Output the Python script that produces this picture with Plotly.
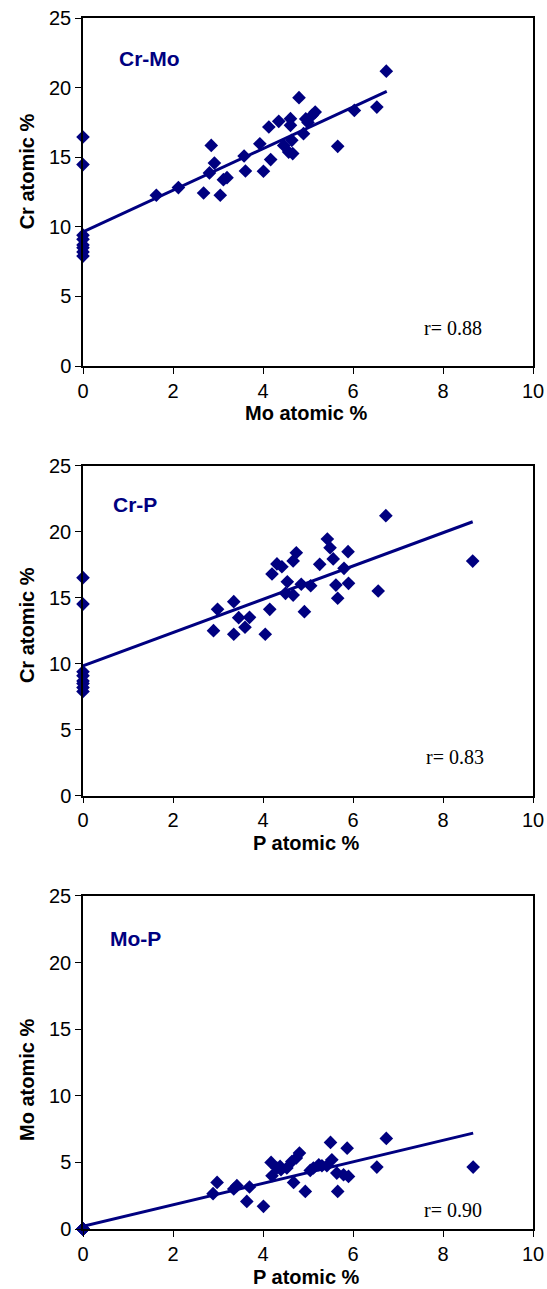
import plotly.graph_objects as go

# ---------- data ----------
mo1 = [0, 0, 0, 0, 0, 0, 0, 0,
       1.63, 2.12, 2.68, 3.05, 3.12, 3.2, 2.85, 2.92, 2.81, 3.58, 3.61, 3.93, 4.01, 4.17, 4.13,
       4.35, 4.61, 4.61, 4.46, 4.57, 4.66, 4.64, 4.8, 4.95, 4.9, 5.0, 5.09, 5.16,
       5.66, 6.03, 6.53, 6.74]
cr1 = [16.45, 14.47, 9.4, 9.1, 8.7, 8.5, 8.2, 7.9,
       12.27, 12.82, 12.43, 12.27, 13.39, 13.53, 15.85, 14.58, 13.87, 15.09, 14.01, 15.97, 13.99, 14.83, 17.17,
       17.58, 17.77, 17.29, 15.85, 15.37, 15.26, 16.21, 19.28, 17.75, 16.69, 17.5, 18.0, 18.24,
       15.78, 18.36, 18.6, 21.18]

p2 = [0, 0, 0, 0, 0, 0, 0, 0,
      2.9, 2.99, 3.35, 3.35, 3.46, 3.6, 3.7, 4.05, 4.15, 4.2, 4.31, 4.42, 4.54, 4.5,
      4.67, 4.67, 4.74, 4.85, 4.92, 5.06, 5.26, 5.43, 5.49, 5.56, 5.62, 5.66,
      5.8, 5.89, 5.9, 6.56, 6.73, 8.66]
cr2 = [16.53, 14.53, 9.4, 9.1, 8.7, 8.5, 8.2, 7.9,
       12.51, 14.13, 14.71, 12.24, 13.5, 12.77, 13.52, 12.24, 14.13, 16.81, 17.57, 17.36, 16.22, 15.34,
       17.8, 15.21, 18.42, 16.03, 13.95, 15.92, 17.54, 19.46, 18.8, 17.95, 15.97, 14.97,
       17.24, 18.5, 16.1, 15.52, 21.23, 17.79]

p3 = [0, 0, 0, 0, 0, 0, 0, 0,
      2.89, 2.98, 3.35, 3.42, 3.64, 3.7, 4.01, 4.18, 4.2, 4.31, 4.4, 4.38,
      4.53, 4.64, 4.74, 4.81, 4.68, 4.94, 5.05, 5.12, 5.24, 5.31, 5.42, 5.5,
      5.53, 5.64, 5.66, 5.79, 5.87, 5.9, 6.53, 6.74, 8.67]
mo3 = [0, 0, 0, 0, 0, 0, 0, 0,
       2.65, 3.5, 3.0, 3.25, 2.07, 3.15, 1.7, 5.0, 4.0, 4.58, 4.45, 4.7,
       4.58, 5.07, 5.33, 5.7, 3.5, 2.82, 4.4, 4.58, 4.82, 4.75, 4.75, 6.5,
       5.2, 4.2, 2.82, 4.07, 6.07, 3.95, 4.65, 6.8, 4.65]

fit1_x = [0, 6.75]
fit1_y = [9.63, 19.73]
fit2_x = [0, 8.66]
fit2_y = [9.85, 20.77]
fit3_x = [0, 8.67]
fit3_y = [0.2, 7.2]

panel_labels = ["Cr-Mo", "Cr-P", "Mo-P"]
r_labels = ["r= 0.88", "r= 0.83", "r= 0.90"]
x_titles = ["Mo atomic %", "P atomic %", "P atomic %"]
y_titles = ["Cr atomic %", "Cr atomic %", "Mo atomic %"]
x_ticks = [0, 2, 4, 6, 8, 10]
y_ticks = [0, 5, 10, 15, 20, 25]

NAVY = "#000080"
SANS = "Liberation Sans, Arial, sans-serif"
panels = [(mo1, cr1, fit1_x, fit1_y), (p2, cr2, fit2_x, fit2_y), (p3, mo3, fit3_x, fit3_y)]

fig = go.Figure()
for i, (xs, ys, fx, fy) in enumerate(panels):
    sfx = "" if i == 0 else str(i + 1)
    fig.add_trace(go.Scatter(x=fx, y=fy, mode="lines", line=dict(color=NAVY, width=3),
                             xaxis="x" + sfx, yaxis="y" + sfx, showlegend=False, hoverinfo="skip",
                             cliponaxis=False))
    fig.add_trace(go.Scatter(x=xs, y=ys, mode="markers",
                             marker=dict(symbol="diamond", size=10.5, color=NAVY, line=dict(width=0)),
                             xaxis="x" + sfx, yaxis="y" + sfx, showlegend=False, cliponaxis=False))

y_domains = [[0.7126, 1.0], [0.3578, 0.6301], [0.0, 0.275]]
tick_font = dict(family=SANS, size=20, color="black")
axis_common = dict(showgrid=False, zeroline=False, showline=True, linecolor="black", linewidth=1.5,
                   mirror=True, ticks="outside", ticklen=6, tickwidth=1, tickcolor="black",
                   tickfont=tick_font, automargin=False)

layout = {}
for i in range(3):
    sfx = "" if i == 0 else str(i + 1)
    layout["xaxis" + sfx] = dict(domain=[0, 1], range=[0, 10], tickvals=x_ticks, anchor="y" + sfx,
                                 **axis_common)
    layout["yaxis" + sfx] = dict(domain=y_domains[i], range=[0, 25], tickvals=y_ticks, anchor="x" + sfx,
                                 **axis_common)

lbl_pos = [(0.076, 0.884), (0.063, 0.882), (0.055, 0.873)]
r_pos = [(0.823, 0.109), (0.827, 0.118), (0.823, 0.058)]
ytitle_pos = [0.56, 0.518, 0.448]
xtitle_pos = [-0.135, -0.143, -0.143]

annotations = []
for i in range(3):
    sfx = "" if i == 0 else str(i + 1)
    xr, yr = "x" + sfx + " domain", "y" + sfx + " domain"
    annotations.append(dict(text="<b>" + panel_labels[i] + "</b>", xref=xr, yref=yr,
                            x=lbl_pos[i][0], y=lbl_pos[i][1], xanchor="left", yanchor="middle",
                            showarrow=False, font=dict(family=SANS, size=21, color=NAVY)))
    annotations.append(dict(text=r_labels[i], xref=xr, yref=yr, x=r_pos[i][0], y=r_pos[i][1],
                            xanchor="center", yanchor="middle", showarrow=False,
                            font=dict(family="Liberation Serif, Times New Roman, serif", size=20,
                                      color="black")))
    annotations.append(dict(text="<b>" + x_titles[i] + "</b>", xref=xr, yref=yr, x=0.496,
                            y=xtitle_pos[i], xanchor="center", yanchor="middle", showarrow=False,
                            font=dict(family=SANS, size=20, color="black")))
    annotations.append(dict(text="<b>" + y_titles[i] + "</b>", xref=xr, yref=yr, x=-0.124,
                            y=ytitle_pos[i], xanchor="center", yanchor="middle", textangle=-90,
                            showarrow=False, font=dict(family=SANS, size=20, color="black")))

fig.update_layout(width=547, height=1289, margin=dict(l=83, r=14, t=18, b=60),
                  paper_bgcolor="white", plot_bgcolor="white", showlegend=False,
                  annotations=annotations, **layout)

fig.write_html("out.html", config={"displayModeBar": False},
               post_script="document.body.style.margin='0';document.body.style.padding='0';"
                           "document.body.style.overflow='hidden';")
